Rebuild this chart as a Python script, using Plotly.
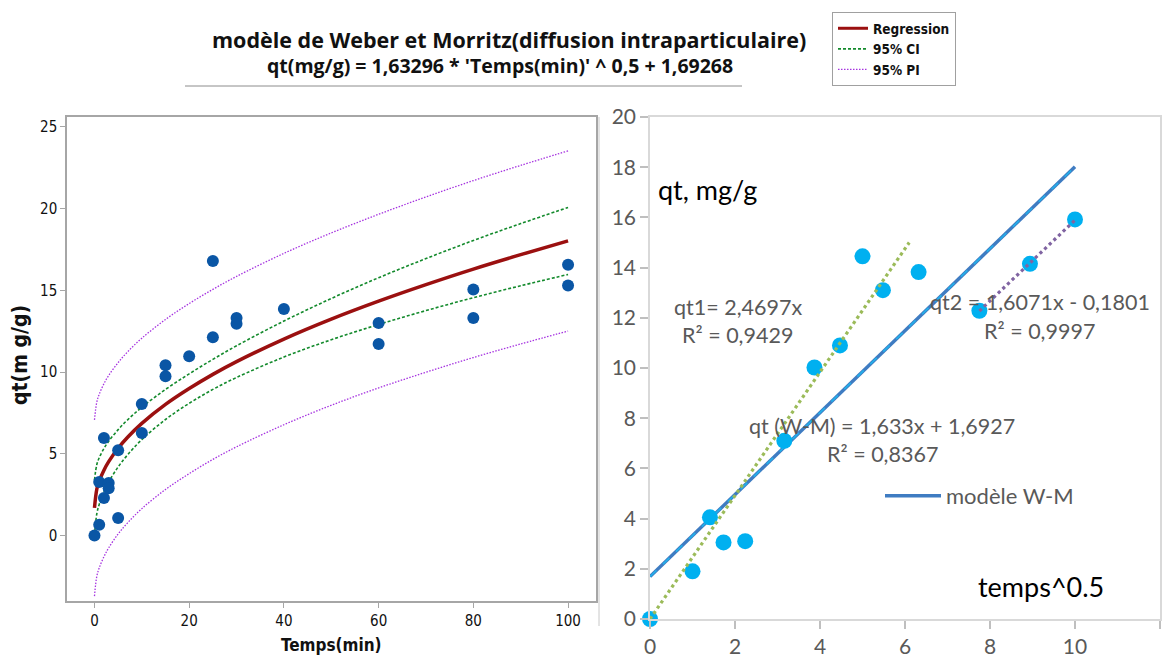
import plotly.graph_objects as go

# ---------------- data ----------------
# left panel: observed points
t_obs = [0, 1, 1, 2, 2, 3, 3, 5, 5, 10, 10, 15, 15, 20, 25, 25, 30, 30, 40, 60, 60, 80, 80, 100, 100]
qt_obs = [0.0, 0.67, 3.28, 2.3, 5.97, 3.22, 2.9, 1.08, 5.22, 8.05, 6.28, 10.42, 9.74, 10.97,
          16.8, 12.13, 13.31, 12.95, 13.86, 13.0, 11.72, 15.05, 13.31, 16.57, 15.29]

# left panel: fitted curve and bands sampled along Temps(min)
t_fit = [0, 0.5, 1, 2, 3, 5, 7, 10, 15, 20, 25, 30, 40, 50, 60, 70, 80, 90, 100]
reg_fit = [1.69, 2.85, 3.33, 4.00, 4.52, 5.34, 6.01, 6.86, 8.02, 8.99, 9.86, 10.64, 12.02,
           13.24, 14.34, 15.35, 16.30, 17.18, 18.02]
ci_upper = [3.39, 4.35, 4.76, 5.33, 5.77, 6.48, 7.08, 7.85, 8.94, 9.89, 10.78, 11.61, 13.12,
            14.50, 15.77, 16.94, 18.05, 19.08, 20.07]
ci_lower = [-0.01, 1.35, 1.90, 2.67, 3.27, 4.20, 4.94, 5.87, 7.10, 8.09, 8.94, 9.67, 10.92,
            11.98, 12.91, 13.76, 14.55, 15.28, 15.97]
pi_upper = [7.08, 8.18, 8.64, 9.29, 9.79, 10.58, 11.24, 12.07, 13.22, 14.19, 15.06, 15.85, 17.26,
            18.51, 19.65, 20.71, 21.71, 22.64, 23.53]
pi_lower = [-3.70, -2.48, -1.98, -1.29, -0.75, 0.10, 0.78, 1.65, 2.82, 3.79, 4.66, 5.43, 6.78,
            7.97, 9.03, 9.99, 10.89, 11.72, 12.51]

# right panel: mean qt versus temps^0.5
x_sqrt = [0, 1, 1.41, 1.73, 2.24, 3.16, 3.87, 4.47, 5, 5.48, 6.32, 7.75, 8.94, 10]
qt_mean = [0, 1.9, 4.05, 3.05, 3.1, 7.1, 10.02, 10.9, 14.45, 13.1, 13.82, 12.28, 14.15, 15.92]

wm_x = [0, 10]
wm_y = [1.69, 18.02]
trend1_x = [0, 6.1]
trend1_y = [0, 15.0]
trend2_x = [7.75, 10]
trend2_y = [12.27, 15.89]

left_xticks = [0, 20, 40, 60, 80, 100]
left_yticks = [0, 5, 10, 15, 20, 25]
right_xticks = [0, 2, 4, 6, 8, 10, 12]
right_yticks = [0, 2, 4, 6, 8, 10, 12, 14, 16, 18, 20]

# ---------------- styling ----------------
PAGE_W, PAGE_H = 1172, 666
BODY_MARGIN = 8  # default browser body margin around the plot div
W, H = PAGE_W - 2 * BODY_MARGIN, PAGE_H - 2 * BODY_MARGIN
COND = "Liberation Sans Narrow, DejaVu Sans Condensed, Roboto, Liberation Sans, sans-serif"
XL = "Lato, Open Sans, sans-serif"
GRAY_TXT = "#595959"


def px(x):
    return (x - BODY_MARGIN) / W


def py(y):
    return 1 - (y - BODY_MARGIN) / H


fig = go.Figure()

# ---- left panel ----
PI_STYLE = dict(color="#a634e0", width=1.3, dash="1.5px,1.5px")
CI_STYLE = dict(color="#138a2c", width=1.6, dash="3px,2px")
for yy in (pi_upper, pi_lower):
    fig.add_trace(go.Scatter(x=t_fit, y=yy, mode="lines", line=PI_STYLE, line_shape="spline",
                             name="95% PI", showlegend=False, xaxis="x", yaxis="y", hoverinfo="skip"))
for yy in (ci_upper, ci_lower):
    fig.add_trace(go.Scatter(x=t_fit, y=yy, mode="lines", line=CI_STYLE, line_shape="spline",
                             name="95% CI", showlegend=False, xaxis="x", yaxis="y", hoverinfo="skip"))
fig.add_trace(go.Scatter(x=t_fit, y=reg_fit, mode="lines", line=dict(color="#9b1010", width=3.5),
                         line_shape="spline", name="Regression", showlegend=False,
                         xaxis="x", yaxis="y"))
fig.add_trace(go.Scatter(x=t_obs, y=qt_obs, mode="markers",
                         marker=dict(color="#0a56a5", size=12, line=dict(width=0)),
                         name="obs", showlegend=False, xaxis="x", yaxis="y", cliponaxis=False))

# legend entries (left chart)
fig.add_trace(go.Scatter(x=[None], y=[None], mode="lines", line=dict(color="#9b1010", width=3),
                         name="Regression", legend="legend", xaxis="x", yaxis="y"))
fig.add_trace(go.Scatter(x=[None], y=[None], mode="lines", line=CI_STYLE,
                         name="95% CI", legend="legend", xaxis="x", yaxis="y"))
fig.add_trace(go.Scatter(x=[None], y=[None], mode="lines", line=PI_STYLE,
                         name="95% PI", legend="legend", xaxis="x", yaxis="y"))

# ---- right panel ----
fig.add_trace(go.Scatter(x=wm_x, y=wm_y, mode="lines", line=dict(color="#3f7cc2", width=3.5),
                         name="modèle W-M", legend="legend2", xaxis="x2", yaxis="y2"))
fig.add_trace(go.Scatter(x=wm_x, y=wm_y, mode="lines", line=dict(color="#22b0ea", width=1.6, dash="dash"),
                         name="trend W-M", showlegend=False, xaxis="x2", yaxis="y2", hoverinfo="skip"))
fig.add_trace(go.Scatter(x=x_sqrt, y=qt_mean, mode="markers",
                         marker=dict(color="#00b0f0", size=16, line=dict(width=0)),
                         name="qt", showlegend=False, xaxis="x2", yaxis="y2", cliponaxis=False))
fig.add_trace(go.Scatter(x=trend1_x, y=trend1_y, mode="lines", line=dict(color="#9bbb59", width=3.2, dash="dot"),
                         name="qt1", showlegend=False, xaxis="x2", yaxis="y2"))
fig.add_trace(go.Scatter(x=trend2_x, y=trend2_y, mode="lines", line=dict(color="#8064a2", width=3.2, dash="dot"),
                         name="qt2", showlegend=False, xaxis="x2", yaxis="y2"))

left_axis_common = dict(showline=True, mirror=True, linecolor="#a6a6a6", linewidth=1.5,
                        ticks="outside", ticklen=5, tickwidth=1.2, tickcolor="#a6a6a6",
                        showgrid=False, zeroline=False, automargin=False,
                        tickfont=dict(family=COND, size=15, color="#111111"))
right_axis_common = dict(showline=True, mirror=True, linecolor="#d9d9d9", linewidth=1.5,
                         ticks="outside", ticklen=8, tickwidth=1.5, tickcolor="#bfbfbf",
                         showgrid=False, zeroline=False, automargin=False,
                         tickfont=dict(family=XL, size=21, color=GRAY_TXT))

fig.update_layout(
    width=W, height=H, autosize=False,
    margin=dict(l=0, r=0, t=0, b=0, autoexpand=False),
    paper_bgcolor="white", plot_bgcolor="white",
    xaxis=dict(domain=[px(67), px(596)], range=[-5.8, 105.9], tickvals=left_xticks,
               anchor="y", **left_axis_common),
    yaxis=dict(domain=[py(601), py(117)], range=[-4, 25.6], tickvals=left_yticks,
               anchor="x", **left_axis_common),
    xaxis2=dict(domain=[px(650), px(1160)], range=[0, 12], tickvals=right_xticks,
                anchor="y2", **right_axis_common),
    yaxis2=dict(domain=[py(619), py(117)], range=[0, 20], tickvals=right_yticks,
                anchor="x2", **right_axis_common),
    legend=dict(x=px(832), y=py(12), xanchor="left", yanchor="top",
                bordercolor="#a0a0a0", borderwidth=1, bgcolor="white",
                font=dict(family=COND, size=13.5, color="#111111", weight="bold"),
                itemwidth=30, tracegroupgap=0),
    legend2=dict(x=px(880), y=py(496), xanchor="left", yanchor="middle",
                 bgcolor="rgba(0,0,0,0)", borderwidth=0,
                 font=dict(family=XL, size=22, color=GRAY_TXT), itemwidth=56),
    showlegend=True,
)

# ---- titles / texts ----
ann = []
ann.append(dict(text="modèle de Weber et Morritz(diffusion intraparticulaire)", x=px(509), y=py(40),
                xref="paper", yref="paper", showarrow=False, xanchor="center", yanchor="middle",
                font=dict(family="Open Sans, sans-serif", size=21.5, color="#111111", weight="bold")))
ann.append(dict(text="qt(mg/g) = 1,63296 * 'Temps(min)' ^ 0,5 + 1,69268", x=px(500), y=py(65),
                xref="paper", yref="paper", showarrow=False, xanchor="center", yanchor="middle",
                font=dict(family="Open Sans, sans-serif", size=19.5, color="#111111", weight="bold")))
ann.append(dict(text="qt(m g/g)", x=px(20), y=py(355), xref="paper", yref="paper", showarrow=False,
                textangle=-90, xanchor="center", yanchor="middle",
                font=dict(family=COND, size=21, color="#111111", weight="bold")))
ann.append(dict(text="Temps(min)", x=px(331), y=py(657), xref="paper", yref="paper", showarrow=False,
                xanchor="center", yanchor="bottom", yshift=0,
                font=dict(family=COND, size=17, color="#111111", weight="bold")))


def rtext(t, x, y, size=21.5, color=GRAY_TXT, xanchor="center"):
    ann.append(dict(text=t, x=x, y=y, xref="x2", yref="y2", showarrow=False,
                    xanchor=xanchor, yanchor="middle",
                    font=dict(family=XL, size=size, color=color)))


rtext("qt, mg/g", 0.15, 17.1, size=27, color="#000000", xanchor="left")
rtext("temps^0.5", 7.67, 1.29, size=27, color="#000000", xanchor="left")
rtext("qt1= 2,4697x", 2.07, 12.43)
rtext("R² = 0,9429", 2.07, 11.3)
rtext("qt2 = 1,6071x - 0,1801", 9.18, 12.64)
rtext("R² = 0,9997", 9.17, 11.48)
rtext("qt (W-M) = 1,633x + 1,6927", 5.46, 7.69)
rtext("R² = 0,8367", 5.46, 6.57)

fig.update_layout(annotations=ann)

# underline below the title block and the chart-area edge between the panels
fig.add_shape(type="line", xref="paper", yref="paper", x0=px(185), x1=px(742), y0=py(86), y1=py(86),
              line=dict(color="#8c8c8c", width=1))
fig.add_shape(type="line", xref="paper", yref="paper", x0=px(599), x1=px(599), y0=py(117), y1=py(626),
              line=dict(color="#c8c8c8", width=1))

fig.write_html("out.html", config={"displayModeBar": False})
